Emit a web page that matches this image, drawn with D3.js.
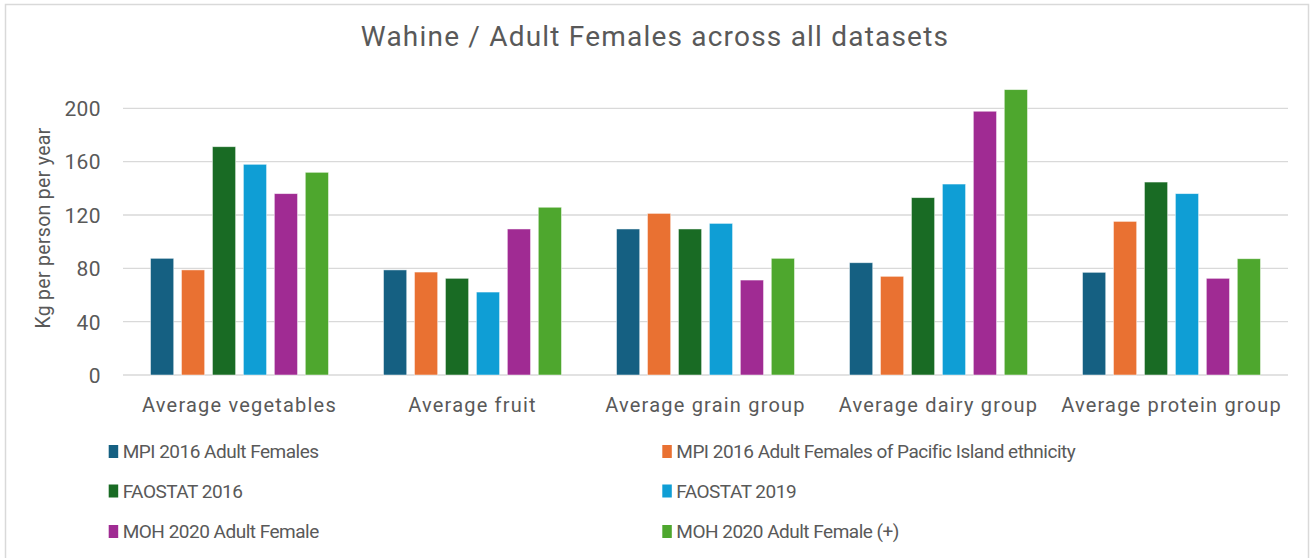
<!DOCTYPE html>
<html>
<head>
<meta charset="utf-8">
<script src="https://cdn.jsdelivr.net/npm/d3@7"></script>
<style>
html,body{margin:0;padding:0;background:#fff;}
svg{display:block;}
text{font-family:Roboto, "Open Sans", sans-serif;fill:#595959;}
</style>
</head>
<body>
<svg id="chart" width="1310" height="558"></svg>
<script>
const categories = ["Average vegetables","Average fruit","Average grain group","Average dairy group","Average protein group"];
const seriesNames = ["MPI 2016 Adult Females","MPI 2016 Adult Females of Pacific Island ethnicity","FAOSTAT 2016","FAOSTAT 2019","MOH 2020 Adult Female","MOH 2020 Adult Female (+)"];
const mpi2016 = [87.5, 78.8, 109.5, 84.2, 77];
const mpi2016PI = [78.8, 77.2, 121.2, 74, 115.2];
const fao2016 = [171.2, 72.5, 109.5, 133, 144.7];
const fao2019 = [158, 62.2, 113.7, 143.2, 136];
const moh2020 = [136, 109.5, 71.2, 197.8, 72.5];
const moh2020plus = [152, 125.8, 87.5, 214, 87.2];
const yTicks = [0, 40, 80, 120, 160, 200];
const colors = ["#156082","#E97132","#196B24","#0F9ED5","#A02B93","#4EA72E"];
const title = "Wahine / Adult Females across all datasets";
const yTitle = "Kg per person per year";

const seriesValues = [mpi2016, mpi2016PI, fao2016, fao2019, moh2020, moh2020plus];

const svg = d3.select("#chart");
const W = 1310, H = 558;
const plot = {left:123, right:1288, top:108.3, bottom:375};

// outer border
svg.append("rect").attr("x",5.5).attr("y",4.5).attr("width",W-7).attr("height",H+10)
  .attr("fill","none").attr("stroke","#D9D9D9").attr("stroke-width",1.5);

const x0 = d3.scaleBand().domain(categories).range([plot.left, plot.right]).paddingInner(0).paddingOuter(0);
const gap = 27.5;
const x1 = d3.scaleBand().domain(d3.range(seriesNames.length)).range([gap, x0.bandwidth()-gap]).paddingInner(0.25).paddingOuter(0);
const y = d3.scaleLinear().domain([0,200]).range([plot.bottom, plot.top]);

// gridlines
svg.append("g").selectAll("line").data(yTicks).join("line")
  .attr("x1",plot.left).attr("x2",plot.right)
  .attr("y1",d=>y(d)).attr("y2",d=>y(d))
  .attr("stroke","#D9D9D9").attr("stroke-width",1.3);

// y axis labels
const yAxis = d3.axisLeft(y).tickValues(yTicks).tickSize(0).tickPadding(0);
const ya = svg.append("g").attr("transform",`translate(${plot.left-22},0)`).call(yAxis);
ya.select(".domain").remove();
ya.selectAll("text").style("font-size","21px").attr("fill","#595959").attr("dy","0.35em")
  .style("font-family","Roboto, sans-serif").style("letter-spacing","0.4px");

// bars
const groups = svg.append("g").selectAll("g").data(categories).join("g")
  .attr("transform",d=>`translate(${x0(d)},0)`);
groups.selectAll("rect").data((c,ci)=>seriesValues.map((s,si)=>({si, v:s[ci]}))).join("rect")
  .attr("x",d=>x1(d.si)).attr("width",x1.bandwidth())
  .attr("y",d=>y(d.v)).attr("height",d=>y(0)-y(d.v))
  .attr("fill",d=>colors[d.si]).attr("stroke","#ffffff").attr("stroke-width",0.8).attr("stroke-opacity",0.6);

// x axis labels
const xAxis = d3.axisBottom(x0).tickSize(0).tickPadding(0);
const xa = svg.append("g").attr("transform",`translate(0,${plot.bottom+30})`).call(xAxis);
xa.select(".domain").remove();
xa.selectAll("text").style("font-size","20px").attr("fill","#595959").attr("dy","0.35em")
  .style("font-family","Roboto, sans-serif").style("letter-spacing","1.2px");

// title
svg.append("text").attr("x",655).attr("y",46).attr("text-anchor","middle")
  .style("font-size","28px").style("letter-spacing","1.2px").text(title);

// y title
svg.append("text").attr("transform",`translate(50,228) rotate(-90)`).attr("text-anchor","middle")
  .style("font-size","19.5px").style("letter-spacing","0.3px").text(yTitle);

// legend
const legX = [108.7, 662.3];
const legY = [451.5, 491, 531.5];
const leg = svg.append("g").selectAll("g").data(seriesNames).join("g")
  .attr("transform",(d,i)=>`translate(${legX[i%2]},${legY[Math.floor(i/2)]})`);
leg.append("rect").attr("x",0).attr("y",-6.5).attr("width",9.5).attr("height",13).attr("fill",(d,i)=>colors[i]);
leg.append("text").attr("x",14).attr("y",0).attr("dy","0.35em").style("font-size","19px")
  .style("letter-spacing","-0.5px").text(d=>d);
</script>
</body>
</html>
